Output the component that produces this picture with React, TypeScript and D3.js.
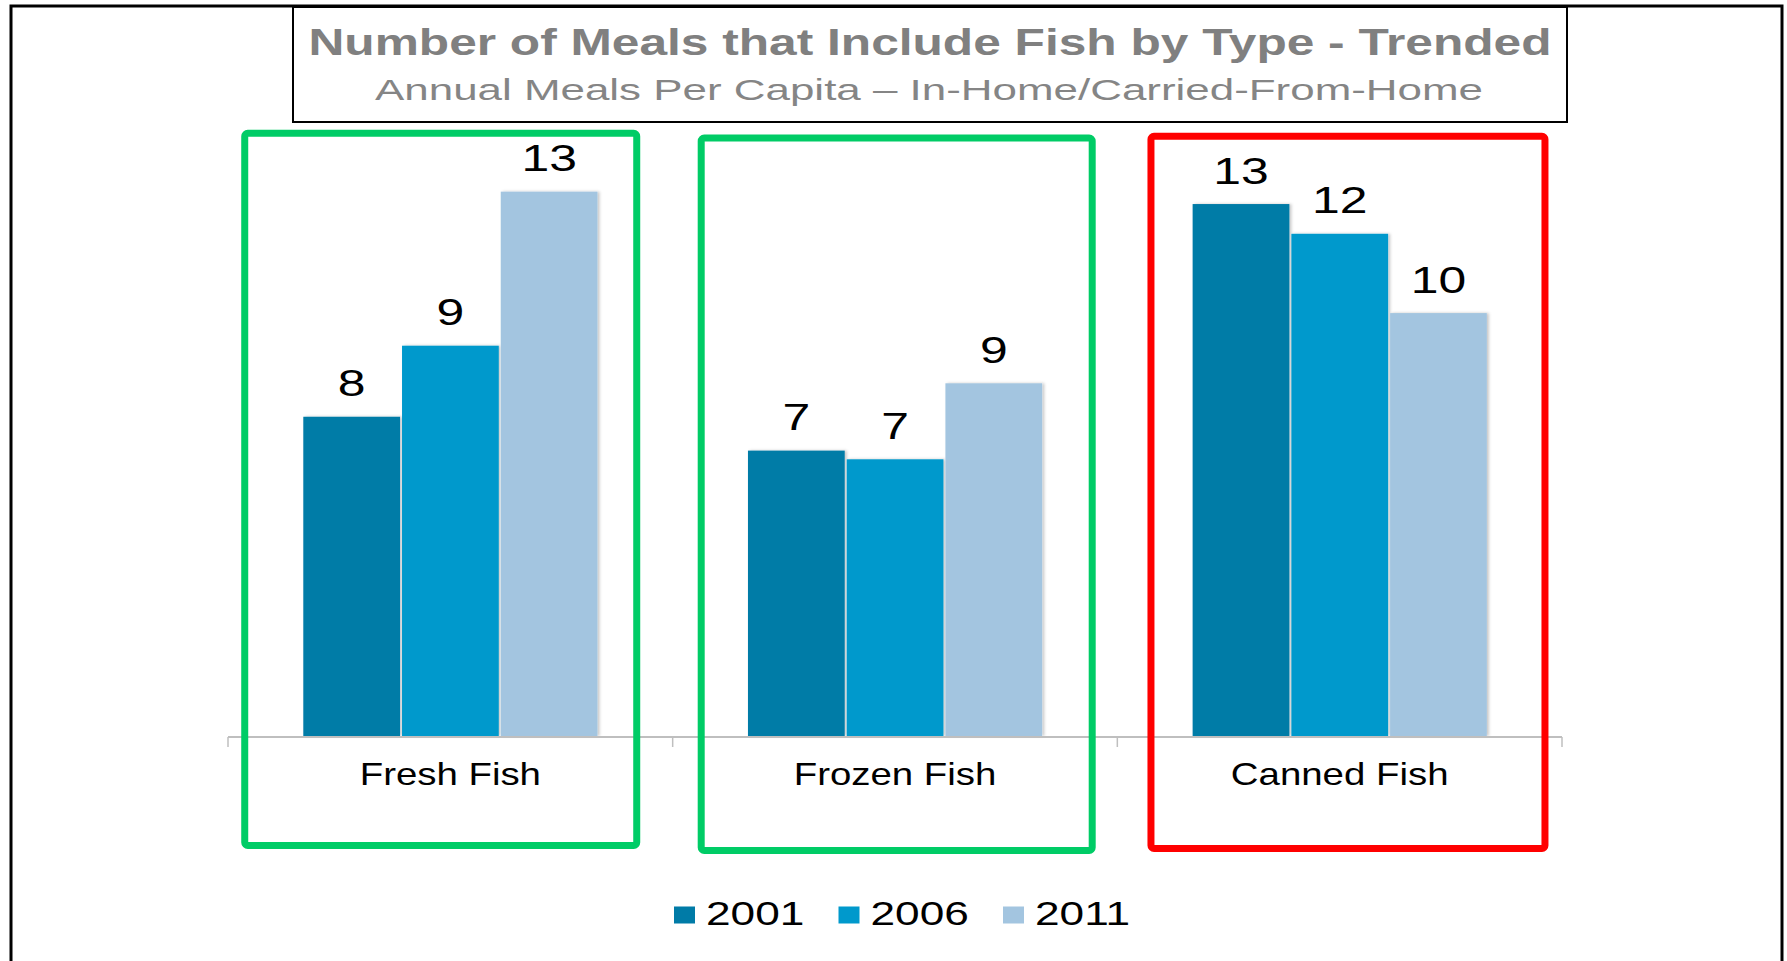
import React from "react";
import * as d3 from "d3";

const categories = ["Fresh Fish", "Frozen Fish", "Canned Fish"];
const seriesYears = ["2001", "2006", "2011"];
const values2001 = [7.73, 6.91, 12.88];
const values2006 = [9.45, 6.7, 12.16];
const values2011 = [13.18, 8.54, 10.24];
const seriesColors = ["#007BA7", "#0099CC", "#A3C5E0"];
const highlightColors = ["#00CC66", "#00CC66", "#FF0000"];
const titleText = "Number of Meals that Include Fish by Type - Trended";
const subtitleText = "Annual Meals Per Capita \u2013 In-Home/Carried-From-Home";

const W = 1787;
const H = 961;
const FONT = "'Liberation Sans', Arial, Helvetica, sans-serif";

export default function App() {
  const seriesValues = [values2001, values2006, values2011];
  const baseY = 736;
  const x0 = d3.scaleBand<string>().domain(categories).range([228, 1562]);
  const x1 = d3
    .scaleBand<string>()
    .domain(seriesYears)
    .range([75.3, 369.5])
    .paddingInner(0.02);
  const y = d3.scaleLinear().domain([0, 14]).range([baseY, baseY - 14 * 41.3]);
  const fmt = d3.format(".0f");

  // annotation boxes layout (offset from band centre)
  const boxLayout = [
    { dc: -9.6, w: 392, top: 133.3, bottom: 845.5 },
    { dc: 1.7, w: 391, top: 138, bottom: 850.5 },
    { dc: 8.3, w: 394, top: 136.3, bottom: 848.5 },
  ];

  const ticks = [...categories.map((c) => x0(c) as number), x0.range()[1]];
  const axisY = 737;

  const legendStep = 164.5;
  const legendStart = 674;

  return (
    <svg
      width={W}
      height={H}
      viewBox={`0 0 ${W} ${H}`}
      style={{ position: "absolute", left: 0, top: 0, display: "block", background: "#fff" }}
      fontFamily={FONT}
    >
      <defs>
        <filter id="barShadow" x="-10%" y="-10%" width="120%" height="120%">
          <feDropShadow dx="2" dy="0" stdDeviation="1.5" floodColor="#000" floodOpacity="0.22" />
        </filter>
      </defs>
      <rect x={0} y={0} width={W} height={H} fill="#fff" />
      {/* outer frame */}
      <rect x={11} y={6} width={1771} height={1000} fill="none" stroke="#000" strokeWidth={3} />
      {/* title box */}
      <rect x={293} y={7} width={1274} height={115} fill="#fff" stroke="#000" strokeWidth={2} />
      <text
        x={930}
        y={55}
        textAnchor="middle"
        fontSize={37}
        fontWeight="bold"
        fill="#808080"
        textLength={1243}
        lengthAdjust="spacingAndGlyphs"
      >
        {titleText}
      </text>
      <text
        x={929}
        y={100}
        textAnchor="middle"
        fontSize={30}
        fill="#858585"
        textLength={1108}
        lengthAdjust="spacingAndGlyphs"
      >
        {subtitleText}
      </text>

      {/* bars */}
      {categories.map((cat, ci) => (
        <g key={cat} transform={`translate(${x0(cat)},0)`}>
          <g filter="url(#barShadow)">
            {seriesYears.map((yr, si) => {
              const v = seriesValues[si][ci];
              return (
                <rect
                  key={yr}
                  x={x1(yr)}
                  y={y(v)}
                  width={x1.bandwidth()}
                  height={baseY - y(v)}
                  fill={seriesColors[si]}
                />
              );
            })}
          </g>
          {seriesYears.map((yr, si) => {
            const v = seriesValues[si][ci];
            const cx = (x1(yr) as number) + x1.bandwidth() / 2;
            return (
              <text
                key={yr}
                transform={`translate(${cx},${y(v) - 20.5}) scale(1.33,1)`}
                textAnchor="middle"
                fontSize={37.5}
                fill="#000"
              >
                {fmt(v)}
              </text>
            );
          })}
        </g>
      ))}

      {/* category axis */}
      <line x1={ticks[0]} x2={ticks[ticks.length - 1]} y1={axisY} y2={axisY} stroke="#BFBFBF" strokeWidth={2} />
      {ticks.map((t, i) => (
        <line key={i} x1={t} x2={t} y1={axisY} y2={axisY + 10} stroke="#BFBFBF" strokeWidth={1.5} />
      ))}
      {categories.map((cat) => (
        <text
          key={cat}
          transform={`translate(${(x0(cat) as number) + x0.bandwidth() / 2},785) scale(1.2,1)`}
          textAnchor="middle"
          fontSize={32}
          fill="#000"
        >
          {cat}
        </text>
      ))}

      {/* highlight boxes */}
      {categories.map((cat, ci) => {
        const b = boxLayout[ci];
        const c = (x0(cat) as number) + x0.bandwidth() / 2 + b.dc;
        return (
          <rect
            key={cat}
            x={c - b.w / 2}
            y={b.top}
            width={b.w}
            height={b.bottom - b.top}
            rx={3}
            fill="none"
            stroke={highlightColors[ci]}
            strokeWidth={7}
          />
        );
      })}

      {/* legend */}
      {seriesYears.map((yr, si) => {
        const lx = legendStart + si * legendStep;
        return (
          <g key={yr}>
            <rect x={lx} y={906.5} width={21} height={17} fill={seriesColors[si]} />
            <text
              transform={`translate(${lx + 32},925) scale(1.3,1)`}
              fontSize={34}
              fill="#000"
            >
              {yr}
            </text>
          </g>
        );
      })}
    </svg>
  );
}
